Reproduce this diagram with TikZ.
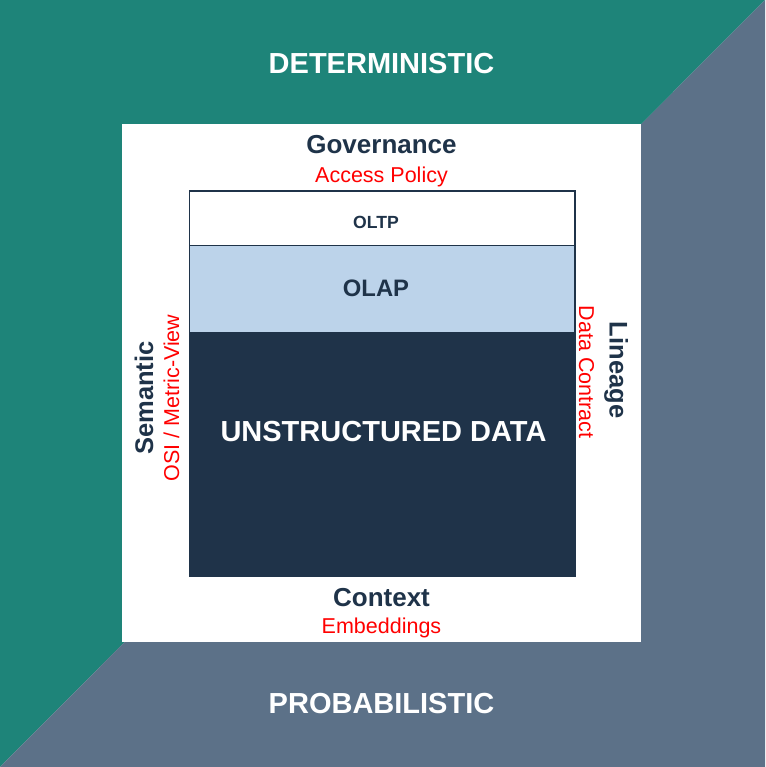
\documentclass[tikz,border=0pt]{standalone}
\usepackage{fontspec}
\setmainfont{Liberation Sans}
\definecolor{teal1}{HTML}{1E8479}
\definecolor{slate1}{HTML}{5C7188}
\definecolor{navy1}{HTML}{1F3349}
\definecolor{lblue1}{HTML}{BCD3EA}
\definecolor{red1}{HTML}{FF0000}
\begin{document}
\begin{tikzpicture}[x=1pt,y=-1pt,
  big/.style={font=\fontsize{29}{33}\selectfont\bfseries,text=white,inner sep=0pt,anchor=base},
  head/.style={font=\fontsize{26}{30}\selectfont\bfseries,text=navy1,inner sep=0pt,anchor=base},
  sub/.style={font=\fontsize{21.5}{25}\selectfont,text=red1,inner sep=0pt,anchor=base},
  layer/.style={inner sep=0pt,anchor=north west,minimum width=385pt},
]
\useasboundingbox (0,0) rectangle (765,767);
% background halves
\fill[teal1] (0,0) -- (765,0) -- (0,767) -- cycle;
\fill[slate1] (765,0) -- (765,767) -- (0,767) -- cycle;
% white panel
\node[fill=white,inner sep=0pt,anchor=north west,minimum width=519pt,minimum height=518pt] (panel) at (122,124) {};
% layers
\node[layer,fill=white,minimum height=54pt] (oltpbox) at (189.5,191) {};
\node[layer,fill=lblue1,minimum height=86.5pt] (olapbox) at (189.5,245) {};
\node[layer,fill=navy1,minimum height=244.5pt] (unbox) at (189.5,331.5) {};
\draw[navy1,line width=1.2pt] (oltpbox.north west) rectangle (unbox.south east);
\draw[navy1,line width=1.2pt] (oltpbox.south west) -- (oltpbox.south east);
% texts
\node[big] (det) at (381.5,73.5) {DETERMINISTIC};
\node[big] (prob) at (381.5,713) {PROBABILISTIC};
\node[head] (gov) at (381.5,154) {Governance};
\node[sub] (acc) at (381.5,183) {Access Policy};
\node[font=\fontsize{17.6}{20}\selectfont\bfseries,text=navy1,inner sep=0pt,anchor=base] (oltp) at (376,228) {OLTP};
\node[font=\fontsize{23.8}{27}\selectfont\bfseries,text=navy1,inner sep=0pt,anchor=base] (olap) at (376,296.5) {OLAP};
\node[big] (uns) at (383.5,441) {UNSTRUCTURED DATA};
\node[head] (ctx) at (381.5,606) {Context};
\node[sub] (emb) at (381.5,633) {Embeddings};
\node[head,font=\fontsize{25.5}{29}\selectfont\bfseries,rotate=90] (sem) at (153,398) {Semantic};
\node[sub,rotate=90] (osi) at (179,398) {OSI / Metric-View};
\node[head,font=\fontsize{25.5}{29}\selectfont\bfseries,rotate=-90] (lin) at (609.5,370) {Lineage};
\node[sub,rotate=-90] (dc) at (579,372) {Data Contract};
\end{tikzpicture}
\end{document}
